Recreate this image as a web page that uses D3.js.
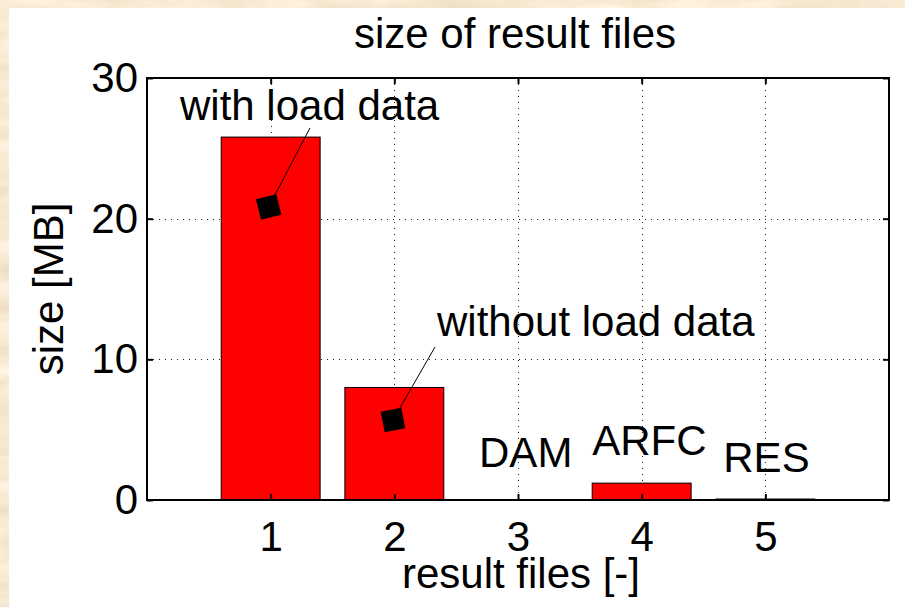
<!DOCTYPE html>
<html>
<head>
<meta charset="utf-8">
<script src="https://cdn.jsdelivr.net/npm/d3@7"></script>
<style>
  html, body { margin: 0; padding: 0; background: #ead6a8; }
  svg { display: block; }
  text { font-family: "Liberation Sans", Arial, Helvetica, sans-serif; fill: #000; }
</style>
</head>
<body>
<svg id="chart" width="905" height="607"></svg>
<script>
// Result file index and size in MB
const files = [1, 2, 3, 4, 5];
const sizes = [25.8, 8.0, 0, 1.2, 0.07];
const yTicks = [0, 10, 20, 30];

// Text labels placed in data coordinates
const fileLabels = [
  { text: "DAM",  x: 2.685, y: 2.35 },
  { text: "ARFC", x: 3.6,   y: 3.2 },
  { text: "RES",  x: 4.66,  y: 2.0 }
];

// Callouts: text start, line start, and square marker position (data units)
const callouts = [
  { text: "with load data",    tx: 0.267, ty: 27.0,  lx: 1.318, ly: 26.45, mx: 0.984, my: 20.83, rot: -14 },
  { text: "without load data", tx: 2.345, ty: 11.66, lx: 2.329, ly: 10.88, mx: 1.989, my: 5.69,  rot: -11 }
];

const W = 905, H = 607;
const plot = { left: 147, top: 78, right: 889, bottom: 500 };
const fontSize = 42;

const svg = d3.select("#chart");

// Parchment-like backdrop
const defs = svg.append("defs");
const f = defs.append("filter").attr("id", "paper")
  .attr("x", 0).attr("y", 0).attr("width", "100%").attr("height", "100%");
f.append("feTurbulence").attr("type", "fractalNoise")
  .attr("baseFrequency", "0.012 0.05").attr("numOctaves", 4).attr("seed", 7);
f.append("feColorMatrix").attr("type", "matrix")
  .attr("values", "0.30 0 0 0 0.78  0.32 0 0 0 0.66  0.38 0 0 0 0.46  0 0 0 0 1");
svg.append("rect").attr("width", W).attr("height", H).attr("filter", "url(#paper)");

// Figure area
svg.append("rect").attr("x", 9).attr("y", 8).attr("width", W - 9).attr("height", H - 8).attr("fill", "#fff");

const x = d3.scaleLinear().domain([0, 6]).range([plot.left, plot.right]);
const y = d3.scaleLinear().domain([0, 30]).range([plot.bottom, plot.top]);

const g = svg.append("g");

// Dotted grid
const grid = g.append("g").attr("stroke", "#222").attr("stroke-width", 1).attr("stroke-dasharray", "1,5");
grid.selectAll(".gx").data(files).join("line")
  .attr("x1", d => Math.round(x(d)) + 0.5).attr("x2", d => Math.round(x(d)) + 0.5)
  .attr("y1", plot.top).attr("y2", plot.bottom);
grid.selectAll(".gy").data(yTicks.slice(1, -1)).join("line")
  .attr("x1", plot.left).attr("x2", plot.right)
  .attr("y1", d => Math.round(y(d)) + 0.5).attr("y2", d => Math.round(y(d)) + 0.5);

// Bars
const barW = x(0.8) - x(0);
g.selectAll(".bar").data(files).join("rect")
  .attr("x", d => x(d) - barW / 2)
  .attr("width", barW)
  .attr("y", (d, i) => y(sizes[i]))
  .attr("height", (d, i) => y(0) - y(sizes[i]))
  .attr("fill", "#ff0000")
  .attr("stroke", "#000")
  .attr("stroke-width", 1);

// Axes with inward ticks
const styleAxis = sel => {
  sel.select(".domain").remove();
  sel.selectAll(".tick line").attr("stroke", "#000").attr("stroke-width", 2);
  sel.selectAll(".tick text").attr("font-size", fontSize).attr("fill", "#000")
    .style("font-family", '"Liberation Sans", Arial, sans-serif');
};
svg.append("g").attr("transform", `translate(0,${plot.bottom})`)
  .call(d3.axisBottom(x).tickValues(files).tickFormat(d3.format("d")).tickSize(-6).tickPadding(21))
  .call(styleAxis);
svg.append("g").attr("transform", `translate(0,${plot.top})`)
  .call(d3.axisTop(x).tickValues(files).tickFormat("").tickSize(-6))
  .call(styleAxis);
svg.append("g").attr("transform", `translate(${plot.left},0)`)
  .call(d3.axisLeft(y).tickValues(yTicks).tickFormat(d3.format("d")).tickSize(-6).tickPadding(9))
  .call(styleAxis);
svg.append("g").attr("transform", `translate(${plot.right},0)`)
  .call(d3.axisRight(y).tickValues(yTicks).tickFormat("").tickSize(-6))
  .call(styleAxis);

// Plot frame
svg.append("rect")
  .attr("x", plot.left).attr("y", plot.top)
  .attr("width", plot.right - plot.left).attr("height", plot.bottom - plot.top)
  .attr("fill", "none").attr("stroke", "#000").attr("stroke-width", 2);

// File type labels
svg.selectAll(".flabel").data(fileLabels).join("text")
  .attr("x", d => x(d.x)).attr("y", d => y(d.y))
  .attr("font-size", fontSize)
  .text(d => d.text);

// Callouts
const co = svg.selectAll(".callout").data(callouts).join("g");
co.append("line")
  .attr("x1", d => x(d.lx)).attr("y1", d => y(d.ly))
  .attr("x2", d => x(d.mx)).attr("y2", d => y(d.my))
  .attr("stroke", "#000").attr("stroke-width", 1);
co.append("rect")
  .attr("x", -10.5).attr("y", -10.5).attr("width", 21).attr("height", 21)
  .attr("fill", "#000")
  .attr("transform", d => `translate(${x(d.mx)},${y(d.my)}) rotate(${d.rot})`);
co.append("text")
  .attr("x", d => x(d.tx)).attr("y", d => y(d.ty))
  .attr("font-size", fontSize)
  .text(d => d.text);

// Titles
svg.append("text").attr("x", (plot.left + plot.right) / 2 - 3).attr("y", 48)
  .attr("text-anchor", "middle").attr("font-size", fontSize).text("size of result files");
svg.append("text").attr("x", (plot.left + plot.right) / 2 + 3).attr("y", 588)
  .attr("text-anchor", "middle").attr("font-size", fontSize).text("result files [-]");
svg.append("text")
  .attr("transform", `translate(63,${(plot.top + plot.bottom) / 2}) rotate(-90)`)
  .attr("text-anchor", "middle").attr("font-size", fontSize).text("size [MB]");
</script>
</body>
</html>
